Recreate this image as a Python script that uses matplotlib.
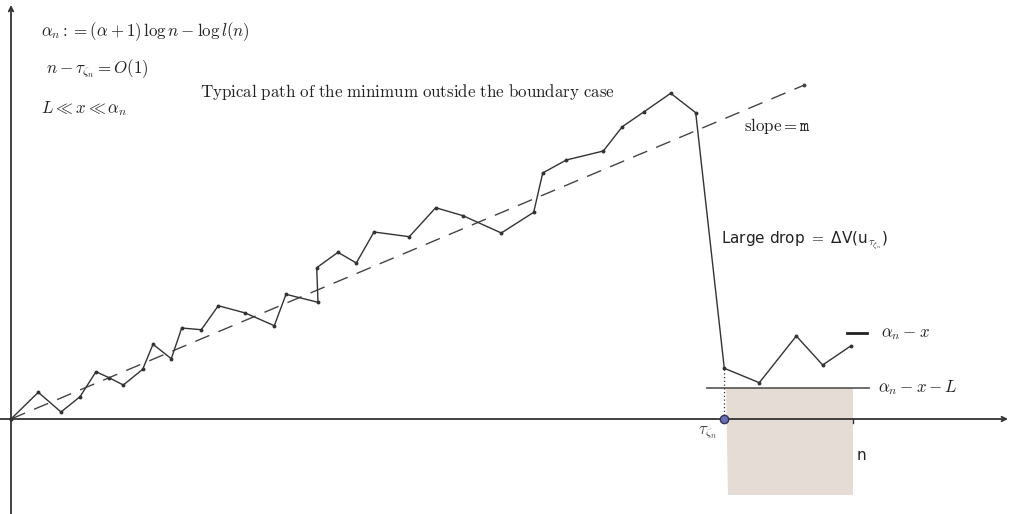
import matplotlib.pyplot as plt
from matplotlib.patches import Polygon

plt.rcParams['mathtext.fontset'] = 'cm'

# path of the minimum (time, value), origin at the axes crossing
path_t = [0, 27.3, 50, 69, 85, 98, 112.3, 131.7, 142, 160.3, 170.7, 190.3,
          207.3, 234.3, 263.3, 275, 307, 305.7, 327, 345.3, 363, 398.3, 424.7,
          452, 490.3, 522.7, 531.7, 555.3, 592.3, 611.3, 632.7, 659.7, 684.7,
          713.3, 748.3, 785.3, 811.7, 839.7]
path_v = [0, 26.7, 7, 22.3, 47.3, 41.3, 34, 49.7, 74.7, 60.3, 91, 89.3,
          113.3, 106, 93.3, 124.7, 116.7, 151.3, 166.7, 156, 187, 182.3, 211.3,
          203.3, 186, 206.7, 246, 259, 268, 292.3, 307, 325.7, 306.3,
          50.7, 36.3, 83, 54, 73]

# drift line with slope m
drift_t = [0, 792.7]
drift_v = [0, 333.7]

tau = 713.3       # tau_{zeta_n}
n_end = 841.7     # n
level = 31.0      # alpha_n - x - L
level_t = [696.3, 858.0]
legend_t = [835.7, 855.7]
legend_v = 86.3
box_bottom = -76.0

fig = plt.figure(figsize=(10.13, 5.14), dpi=100)
ax = fig.add_axes([0, 0, 1, 1])
ax.set_xlim(-11, 1002)
ax.set_ylim(-95, 419)
ax.axis('off')

dark = '#333333'

# shaded window [tau, n]
shade = Polygon([(tau + 1.4, level), (n_end, level), (n_end, box_bottom),
                 (tau + 4, box_bottom)], closed=True,
                facecolor='#e5ddd5', edgecolor='none', zorder=0)
ax.add_patch(shade)

# axes with arrows
ax.annotate('', xy=(997, 0), xytext=(-11, 0),
            arrowprops=dict(arrowstyle='->', color=dark, lw=1.3,
                            mutation_scale=8, shrinkA=0, shrinkB=0))
ax.annotate('', xy=(0, 414), xytext=(0, -95),
            arrowprops=dict(arrowstyle='->', color=dark, lw=1.3,
                            mutation_scale=8, shrinkA=0, shrinkB=0))
ax.plot([n_end, n_end], [0, -4], color=dark, lw=1)

# dashed drift line
ax.plot(drift_t, drift_v, ls=(0, (11, 7)), color='#444444', lw=1,
        marker='o', ms=1.8, zorder=2)

# path
ax.plot(path_t, path_v, color=dark, lw=1, marker='o', ms=1.8, zorder=3)

# level line and legend dash
ax.plot(level_t, [level, level], color='#555555', lw=1.2)
ax.plot(legend_t, [legend_v, legend_v], color='#222222', lw=2)

# tau point with dotted drop line
ax.plot([tau, tau], [0, path_v[33]], color=dark, lw=0.9, ls=(0, (1, 2)))
ax.plot([tau], [0], marker='o', ms=6, color='#6b6fb5', mec='#333355',
        mew=1, zorder=5)

# texts
tc = '#222222'
fs = 12.2
ax.text(30, 387, r'$\alpha_n := (\alpha+1)\,\log n - \log l(n)$',
        fontsize=fs, va='center', color=tc)
ax.text(34.7, 350.5, r'$n - \tau_{\zeta_n} = O(1)$',
        fontsize=fs, va='center', color=tc)
ax.text(29.7, 310.5, r'$L \ll x \ll \alpha_n$',
        fontsize=fs, va='center', color=tc)
ax.text(189, 327, r'$\mathrm{Typical\ path\ of\ the\ minimum\ outside\ the\ boundary\ case}$',
        fontsize=fs, va='center', color=tc)
ax.text(733, 293, r'$\mathrm{slope} = \mathtt{m}$',
        fontsize=fs, va='center', color=tc)
ax.text(709.7, 178, r'Large drop $\mathsf{=}$ ΔV(u$_{\tau_{\zeta_n}}$)',
        fontsize=11, va='center', color=tc, family='DejaVu Sans')
ax.text(870, 86.3, r'$\alpha_n - x$', fontsize=fs, va='center', color=tc)
ax.text(866.7, 31, r'$\alpha_n - x - L$', fontsize=fs, va='center', color=tc)
ax.text(697, -13, r'$\tau_{\zeta_n}$', fontsize=12, ha='center', va='center',
        color='#444444')
ax.text(846, -36, 'n', fontsize=11, va='center', color=tc, family='DejaVu Sans')

fig.savefig('out.png', dpi=100)
